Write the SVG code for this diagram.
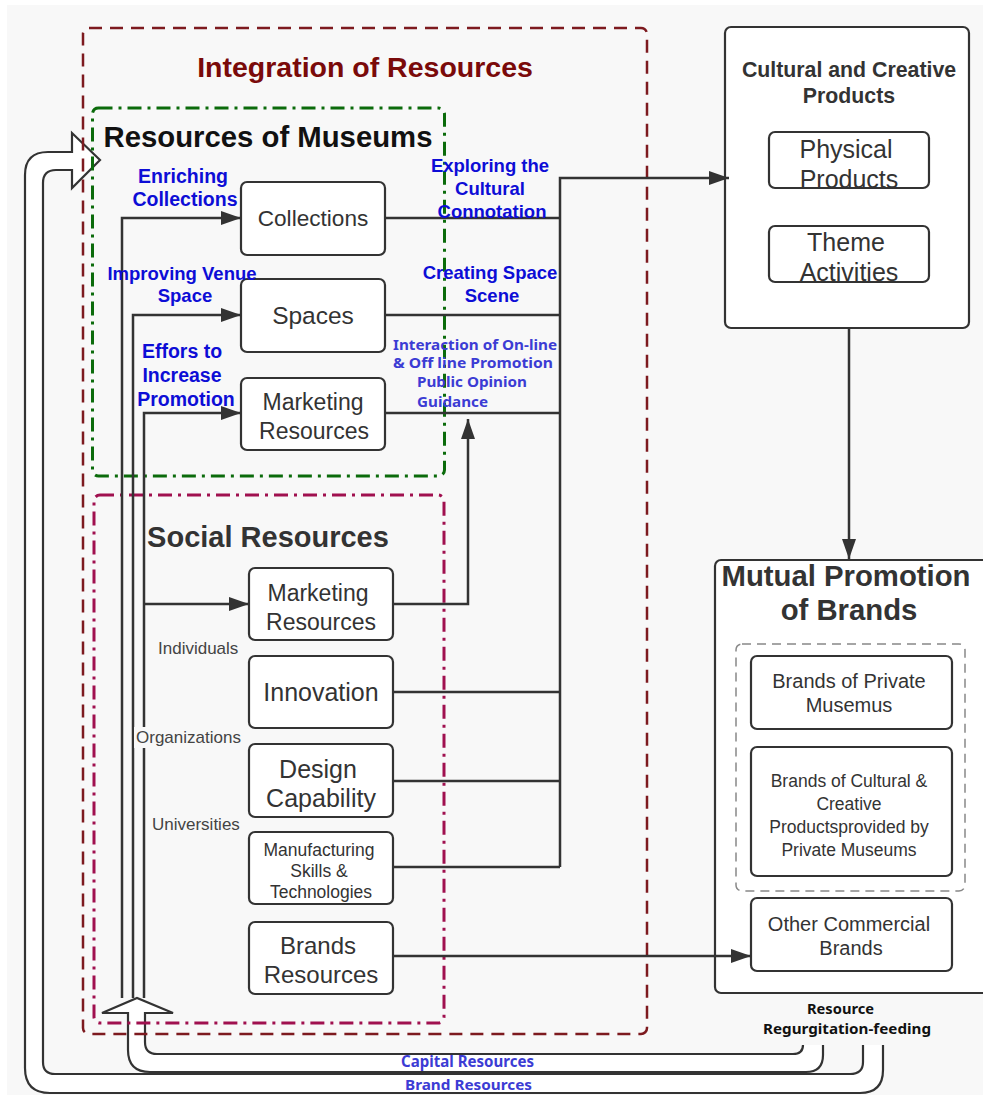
<svg xmlns="http://www.w3.org/2000/svg" width="983" height="1095" viewBox="0 0 983 1095">
<style>
.node{fill:#fff;stroke:#333;stroke-width:2.2}
.nt{font-family:"Liberation Sans",Arial,sans-serif;fill:#333;text-anchor:middle}
.bt{font-family:"Liberation Sans",Arial,sans-serif;font-weight:bold;text-anchor:middle}
.blue{font-family:"Liberation Sans",Arial,sans-serif;font-weight:bold;fill:#0d0dd6;text-anchor:middle}
.blue2{font-family:"Noto Sans",sans-serif;font-weight:bold;fill:#3c3cd4}
.gray{font-family:"Liberation Sans",Arial,sans-serif;fill:#444;font-size:17px}
.conn{fill:none;stroke:#333;stroke-width:2.5}
.hollow{fill:#fff;stroke:#333;stroke-width:2.2;stroke-linejoin:miter}
</style>
<defs>
<marker id="ah" viewBox="0 0 20 14" refX="20" refY="7" markerWidth="20" markerHeight="14" markerUnits="userSpaceOnUse" orient="auto">
<path d="M0,0 L20,7 L0,14 z" fill="#333"/>
</marker>
</defs>
<rect x="0" y="0" width="983" height="1095" fill="#fff"/>
<rect x="7" y="5" width="976" height="1090" fill="#f8f8f8"/>

<g id="hollow-arrows">
<path id="brand-arrow" class="hollow" d="M883,1045 L883,1070 Q883,1093 860,1093 L50,1093 Q25,1093 25,1068 L25,175 Q25,152 48,152 L72,152 L72,133 L100,160 L72,188 L72,170 L56,170 Q43,170 43,183 L43,1062 Q43,1074 55,1074 L850,1074 Q863,1074 863,1062 L863,1045"/>
<path id="capital-arrow" class="hollow" d="M823,1045 L823,1055 Q823,1072 806,1072 L150,1072 Q128,1072 128,1050 L128,1013 L102,1013 L137,998 L173,1013 L145,1013 L145,1042 Q145,1054 157,1054 L793,1054 Q803,1054 803,1045"/>
</g>

<g id="integration">
<rect x="83" y="28" width="564" height="1006" rx="6" fill="none" stroke="#7d1a1f" stroke-width="2.5" stroke-dasharray="13 8"/>
<text class="bt" x="365" y="77" font-size="28.5" fill="#7a0a0a">Integration of Resources</text>
</g>
<g id="museum-resources">
<rect x="92.5" y="108" width="352" height="368" rx="6" fill="none" stroke="#0b6b0b" stroke-width="3" stroke-dasharray="14 6 3 6"/>
<text class="bt" x="268" y="147" font-size="29.3" fill="#111">Resources of Museums</text>
</g>
<g id="social-resources">
<rect x="94" y="495" width="350" height="528" rx="6" fill="none" stroke="#a0104f" stroke-width="3" stroke-dasharray="14 6 3 6"/>
<text class="bt" x="268" y="547" font-size="29" fill="#333">Social Resources</text>
</g>

<g id="node-collections"><rect class="node" x="241" y="182" width="144" height="73" rx="6"/><text class="nt" x="313" y="226" font-size="22.6">Collections</text></g>
<g id="node-spaces"><rect class="node" x="241" y="279" width="144" height="73" rx="6"/><text class="nt" x="313" y="324" font-size="24.5">Spaces</text></g>
<g id="node-museum-marketing"><rect class="node" x="241" y="378" width="144" height="72" rx="6"/><text class="nt" x="313" y="410" font-size="23">Marketing</text><text class="nt" x="314" y="439" font-size="23">Resources</text></g>

<g id="node-social-marketing"><rect class="node" x="249" y="568" width="144" height="72" rx="6"/><text class="nt" x="318" y="601" font-size="23">Marketing</text><text class="nt" x="321" y="630" font-size="23">Resources</text></g>
<g id="node-innovation"><rect class="node" x="249" y="656" width="144" height="72" rx="6"/><text class="nt" x="321" y="701" font-size="25">Innovation</text></g>
<g id="node-design"><rect class="node" x="249" y="744" width="144" height="73" rx="6"/><text class="nt" x="318" y="778" font-size="25">Design</text><text class="nt" x="321" y="807" font-size="25">Capability</text></g>
<g id="node-manufacturing"><rect class="node" x="249" y="832" width="144" height="72" rx="6"/><text class="nt" x="319" y="856" font-size="17.5">Manufacturing</text><text class="nt" x="319" y="877" font-size="17.5">Skills &amp;</text><text class="nt" x="321" y="898" font-size="17.5">Technologies</text></g>
<g id="node-brands-resources"><rect class="node" x="249" y="922" width="144" height="72" rx="6"/><text class="nt" x="318" y="954" font-size="24">Brands</text><text class="nt" x="321" y="983" font-size="24">Resources</text></g>

<g id="node-cultural-products">
<rect class="node" x="725" y="27" width="244" height="301" rx="6"/>
<text class="bt" x="849" y="77" font-size="21.3" fill="#333">Cultural and Creative</text>
<text class="bt" x="849" y="103" font-size="21.3" fill="#333">Products</text>
</g>
<g id="node-physical"><rect class="node" x="769" y="132" width="160" height="56" rx="6"/><text class="nt" x="846" y="158" font-size="25">Physical</text><text class="nt" x="849" y="188" font-size="25">Products</text></g>
<g id="node-theme"><rect class="node" x="769" y="226" width="160" height="56" rx="6"/><text class="nt" x="846" y="251" font-size="25">Theme</text><text class="nt" x="849" y="281" font-size="25">Activities</text></g>

<g id="node-mutual-promotion">
<rect class="node" x="715" y="560" width="285" height="433" rx="6"/>
<text class="bt" x="846" y="586" font-size="29.3" fill="#333">Mutual Promotion</text>
<text class="bt" x="849" y="620" font-size="29.3" fill="#333">of Brands</text>
<rect x="736" y="644" width="229" height="247" rx="6" fill="none" stroke="#888" stroke-width="1.5" stroke-dasharray="9 6"/>
</g>
<g id="node-brand-private"><rect class="node" x="751" y="656" width="201" height="73" rx="6"/><text class="nt" x="849" y="688" font-size="20">Brands of Private</text><text class="nt" x="849" y="712" font-size="20">Musemus</text></g>
<g id="node-brand-cultural"><rect class="node" x="751" y="747" width="201" height="129" rx="6"/><text class="nt" x="849" y="787" font-size="17.5">Brands of Cultural &amp;</text><text class="nt" x="849" y="810" font-size="17.5">Creative</text><text class="nt" x="849" y="833" font-size="17.5">Productsprovided by</text><text class="nt" x="849" y="856" font-size="17.5">Private Museums</text></g>
<g id="node-other-brands"><rect class="node" x="751" y="898" width="201" height="73" rx="6"/><text class="nt" x="849" y="931" font-size="20">Other Commercial</text><text class="nt" x="851" y="955" font-size="20">Brands</text></g>

<g id="connectors">
<path class="conn" d="M122,998 L122,218 L241,218" marker-end="url(#ah)"/>
<path class="conn" d="M133,998 L133,315 L241,315" marker-end="url(#ah)"/>
<path class="conn" d="M144,998 L144,413 L241,413" marker-end="url(#ah)"/>
<path class="conn" d="M144,604 L249,604" marker-end="url(#ah)"/>
<path class="conn" d="M385,218 L560,218"/>
<path class="conn" d="M385,315 L560,315"/>
<path class="conn" d="M385,413 L560,413"/>
<path class="conn" d="M560,867 L560,178 L729,178" marker-end="url(#ah)"/>
<path class="conn" d="M393,604 L468,604 L468,419" marker-end="url(#ah)"/>
<path class="conn" d="M393,692 L560,692"/>
<path class="conn" d="M393,781 L560,781"/>
<path class="conn" d="M393,867 L560,867"/>
<path class="conn" d="M393,956 L751,956" marker-end="url(#ah)"/>
<path class="conn" d="M849,328 L849,559" marker-end="url(#ah)"/>
</g>

<g id="labels">
<text class="blue" x="183" y="183" font-size="19.5">Enriching</text>
<text class="blue" x="185" y="206" font-size="19.5">Collections</text>
<text class="blue" x="182" y="280" font-size="18.5">Improving Venue</text>
<text class="blue" x="185" y="302" font-size="18.5">Space</text>
<text class="blue" x="182" y="358" font-size="19.5">Effors to</text>
<text class="blue" x="182" y="382" font-size="19.5">Increase</text>
<text class="blue" x="186" y="406" font-size="19.5">Promotion</text>
<text class="blue" x="490" y="172" font-size="18.5">Exploring the</text>
<text class="blue" x="490" y="195" font-size="18.5">Cultural</text>
<text class="blue" x="492" y="218" font-size="18.5">Connotation</text>
<text class="blue" x="490" y="279" font-size="18.5">Creating Space</text>
<text class="blue" x="492" y="302" font-size="18.5">Scene</text>
<text class="blue2" x="393" y="350" font-size="15" textLength="164" lengthAdjust="spacingAndGlyphs">Interaction of On-line</text>
<text class="blue2" x="393" y="368" font-size="15" textLength="160" lengthAdjust="spacingAndGlyphs">&amp; Off line Promotion</text>
<text class="blue2" x="417" y="387" font-size="15" textLength="110" lengthAdjust="spacingAndGlyphs">Public Opinion</text>
<text class="blue2" x="417" y="407" font-size="15" textLength="71" lengthAdjust="spacingAndGlyphs">Guidance</text>
<text class="gray" x="158" y="654">Individuals</text>
<rect x="134" y="727" width="110" height="21" fill="#f8f8f8"/>
<text class="gray" x="136" y="743">Organizations</text>
<text class="gray" x="152" y="830">Universities</text>
<text class="blue2" x="401" y="1067" font-size="16" textLength="133" lengthAdjust="spacingAndGlyphs">Capital Resources</text>
<text class="blue2" x="405" y="1090" font-size="15" textLength="127" lengthAdjust="spacingAndGlyphs">Brand Resources</text>
<text font-family="Noto Sans, sans-serif" font-weight="bold" fill="#111" x="807" y="1014" font-size="14.5" textLength="67" lengthAdjust="spacingAndGlyphs">Resource</text>
<text font-family="Noto Sans, sans-serif" font-weight="bold" fill="#111" x="763" y="1034" font-size="14.5" textLength="168" lengthAdjust="spacingAndGlyphs">Regurgitation-feeding</text>
</g>
</svg>
